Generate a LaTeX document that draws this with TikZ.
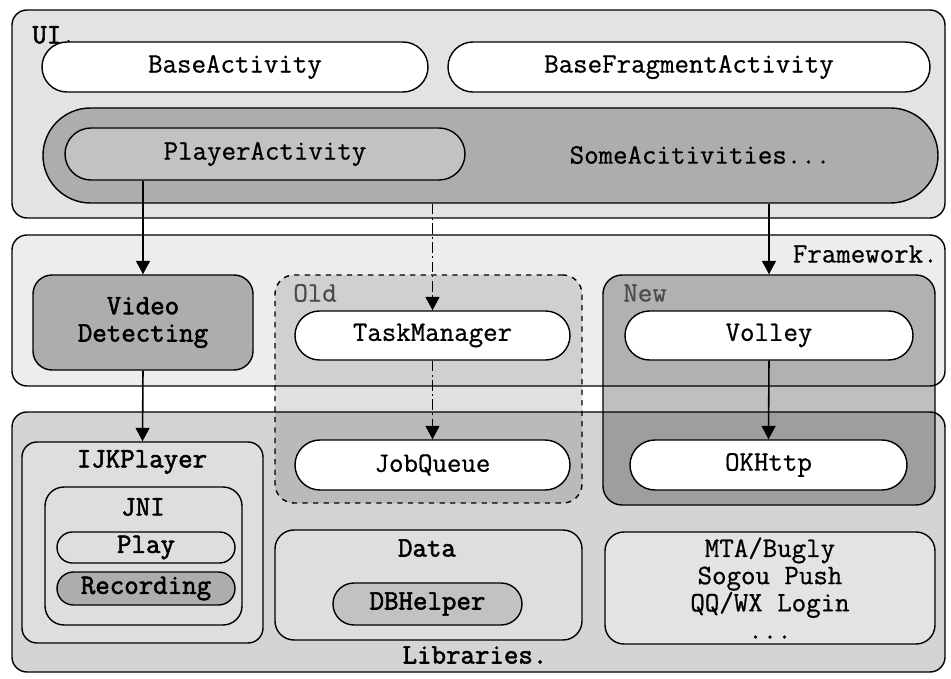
\documentclass[tikz,border=0pt]{standalone}
\usepackage{fontspec}
\newfontfamily\monofont{Latin Modern Mono}[FakeBold=0.7]
\newfontfamily\heavyfont{Latin Modern Mono}[FakeBold=2]
\usetikzlibrary{shapes.misc,arrows.meta,positioning}
\definecolor{uifill}{gray}{0.89}
\definecolor{fwfill}{gray}{0.93}
\definecolor{libfill}{gray}{0.83}
\definecolor{darkfill}{gray}{0.68}
\definecolor{midfill}{gray}{0.76}
\definecolor{lightfill}{gray}{0.87}
\begin{document}
\begin{tikzpicture}[x=0.02cm,y=-0.02cm,
    every node/.style={font=\monofont\fontsize{16}{15.5}\selectfont,inner sep=0pt},
    heavy/.style={font=\heavyfont\fontsize{16}{15.5}\selectfont},
    sz/.style 2 args={minimum width=#1*0.02cm,minimum height=#2*0.02cm},
    layer/.style={draw,line width=0.8pt,rounded corners=0.3cm},
    box/.style={draw,line width=0.8pt,rounded corners=0.38cm},
    pill/.style={draw,line width=0.8pt,rounded rectangle,fill=white},
    arr/.style={line width=0.9pt,-{Triangle[width=0.28cm,length=0.27cm]}}]
    \useasboundingbox (0,0) rectangle (951,679);

    \node(ui) [layer,fill=uifill,sz={933}{208}] at (478.5,114) {};
    \node(fw) [layer,fill=fwfill,sz={933}{151}] at (478.5,310.5) {};
    \node(lib) [layer,fill=libfill,sz={933}{260}] at (478.5,542) {};
    \node(uilabel) [heavy,anchor=west] at (32,35) {UI.};
    \node(fwlabel) [anchor=east] at (938,254) {Framework.};
    \node(liblabel) [heavy] at (475,655) {Libraries.};

    \node(base) [pill,sz={386}{50}] at (235,67) {BaseActivity};
    \node(basefrag) [pill,sz={482}{50}] at (689,67) {BaseFragmentActivity};
    \node(acts) [pill,fill=darkfill,sz={895}{95}] at (490.5,155.5) {};
    \node(player) [pill,fill=midfill,sz={400}{52}] at (265,154) {PlayerActivity};
    \node(some) at (700,155) {SomeAcitivities...};

    \node(video) [box,heavy,fill=darkfill,align=center,sz={220}{95}] at (143,322.5) {Video\\Detecting};
    \node(old) [box,dashed,fill=black,fill opacity=0.12,text opacity=1,sz={307}{228}] at (428.5,389) {};
    \node(new) [box,fill=black,fill opacity=0.25,text opacity=1,sz={332}{230}] at (769,390) {};
    \node(oldlabel) [text=black!70,anchor=west] at (293,293) {Old};
    \node(newlabel) [text=black!70,anchor=west] at (623,293) {New};
    \node(task) [pill,sz={275}{49}] at (432.5,335.5) {TaskManager};
    \node(job) [pill,sz={275}{50}] at (432.5,465) {JobQueue};
    \node(volley) [pill,sz={288}{49}] at (769,335.5) {Volley};
    \node(okhttp) [pill,sz={277}{50}] at (768.5,465) {OKHttp};

    \node(ijk) [layer,fill=lightfill,sz={241}{201}] at (142.5,542.5) {};
    \node(ijklabel) [heavy] at (142,462) {IJKPlayer};
    \node(jni) [box,fill=lightfill,sz={197}{138}] at (143.5,556) {};
    \node(jnilabel) [heavy] at (143,507) {JNI};
    \node(play) [pill,heavy,fill=lightfill,sz={178}{31}] at (146,547.5) {Play};
    \node(rec) [pill,heavy,fill=darkfill,sz={178}{33}] at (146,588.5) {Recording};
    \node(data) [box,fill=lightfill,sz={307}{110}] at (428.5,585) {};
    \node(datalabel) [heavy] at (427,548) {Data};
    \node(db) [pill,heavy,fill=midfill,sz={189}{42}] at (427.5,604) {DBHelper};
    \node(misc) [box,fill=uifill,align=center,sz={330}{112}] at (770,588) {MTA/Bugly\\Sogou Push\\QQ/WX Login\\...};

    \draw[arr] (video.north |- player.south) -- (video.north);
    \draw[arr] (video.south) -- (ijk.north);
    \draw[arr,dash pattern=on 6pt off 2pt on 1pt off 2pt] (task.north |- acts.south) -- (task.north);
    \draw[arr,dash pattern=on 6pt off 2pt on 1pt off 2pt] (task.south) -- (job.north);
    \draw[arr] (new.north |- acts.south) -- (new.north);
    \draw[arr] (volley.south) -- (okhttp.north);
\end{tikzpicture}
\end{document}
